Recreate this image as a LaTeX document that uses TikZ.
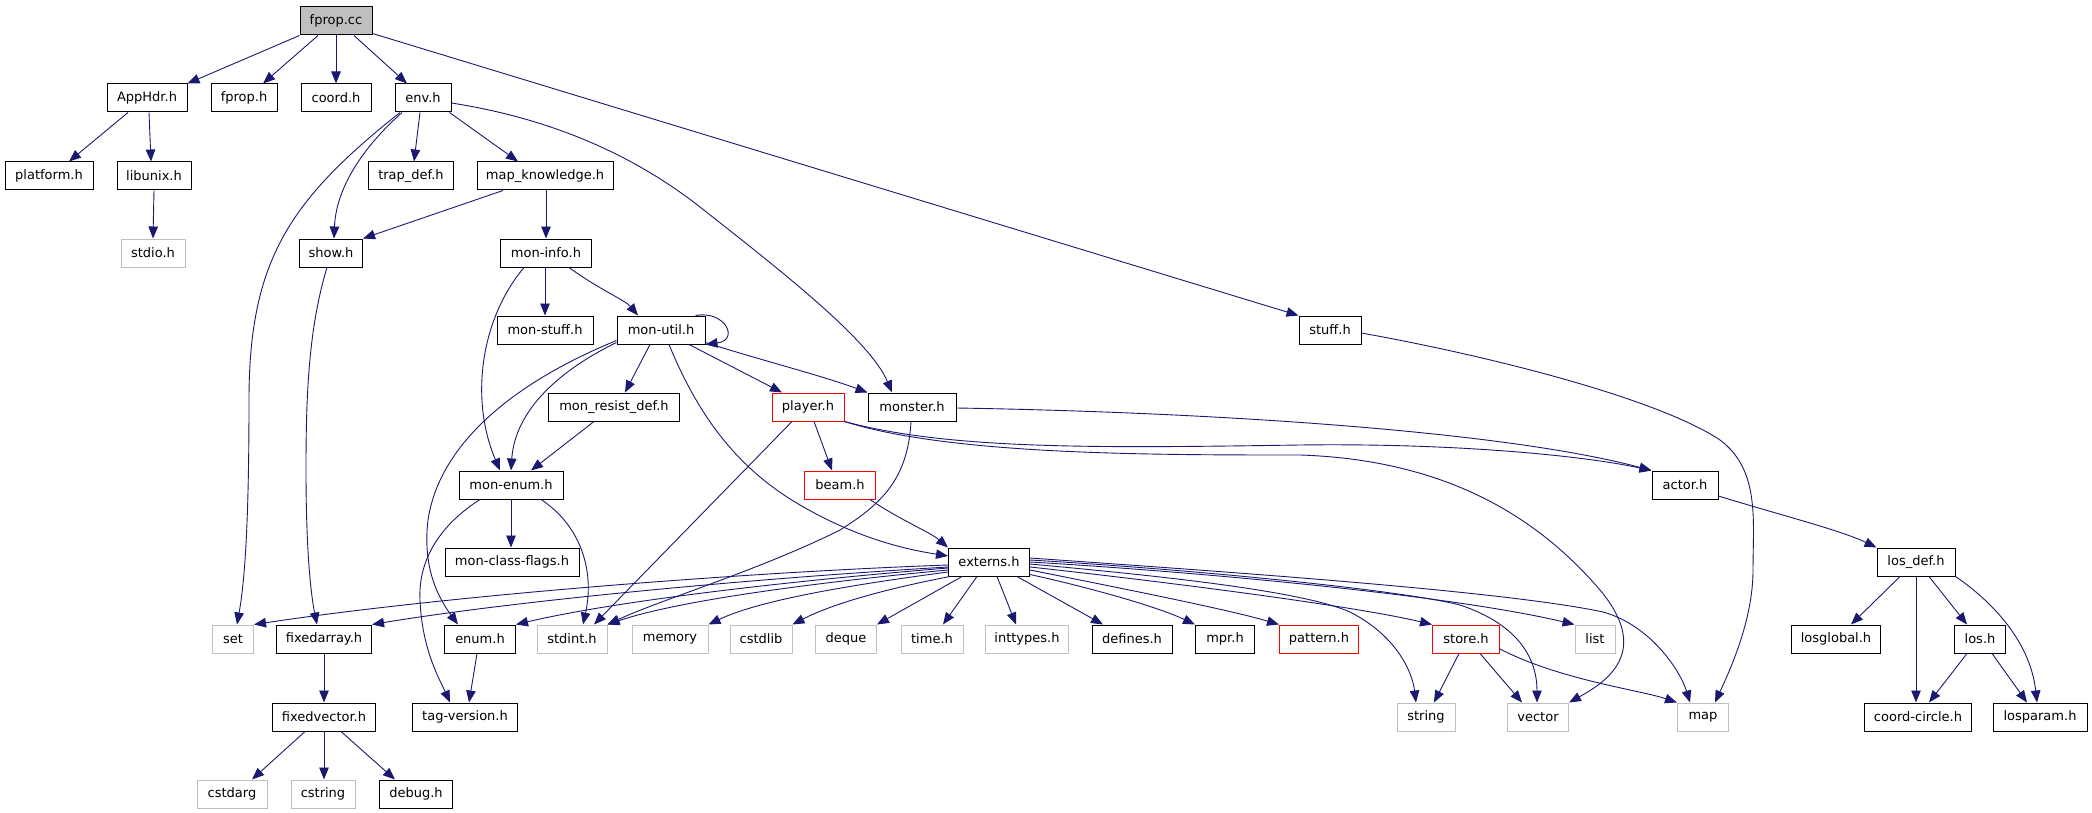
\documentclass[tikz,border=0pt]{standalone}
\usepackage{fontspec}
\setmainfont{DejaVu Sans}
\usetikzlibrary{arrows.meta}
\definecolor{edgec}{HTML}{191970}
\definecolor{grayb}{HTML}{BFBFBF}
\definecolor{redb}{HTML}{FF0000}
\tikzset{
  box/.style={draw=black, line width=1pt, minimum height=28pt, inner sep=0pt, font=\fontsize{13}{16}\selectfont},
  sysbox/.style={box, draw=grayb},
  redbox/.style={box, draw=redb},
  conn/.style={draw=edgec, line width=0.9pt, -{Triangle[length=12pt,width=9.5pt]}},
}
\begin{document}
\begin{tikzpicture}[x=1pt,y=-1pt]
\useasboundingbox (0,0) rectangle (2092,813);
% row 1
\node[box, fill=grayb, minimum width=72pt] (fprop) at (336,21) {fprop.cc};
% row 2
\node[box, minimum width=80pt] (apphdr) at (147,98) {AppHdr.h};
\node[box, minimum width=66pt] (fproph) at (244,98) {fprop.h};
\node[box, minimum width=70pt] (coordh) at (336,98) {coord.h};
\node[box, minimum width=56pt] (envh) at (423,98) {env.h};
% row 3
\node[box, minimum width=88pt] (platform) at (49,176) {platform.h};
\node[box, minimum width=74pt] (libunix) at (154,176) {libunix.h};
\node[box, minimum width=85pt] (trapdef) at (411,176) {trap\_def.h};
\node[box, minimum width=136pt] (mapk) at (545,176) {map\_knowledge.h};
% row 4
\node[sysbox, minimum width=64pt] (stdio) at (153,253) {stdio.h};
\node[box, minimum width=63pt] (show) at (331,253) {show.h};
\node[box, minimum width=91pt] (moninfo) at (546,253) {mon-info.h};
% row 5
\node[box, minimum width=96pt] (monstuff) at (545,330) {mon-stuff.h};
\node[box, minimum width=88pt] (monutil) at (661,330) {mon-util.h};
\node[box, minimum width=62pt] (stuff) at (1330,330) {stuff.h};
% row 6
\node[box, minimum width=131pt] (monresist) at (614,407) {mon\_resist\_def.h};
\node[redbox, minimum width=72pt] (player) at (808,407) {player.h};
\node[box, minimum width=88pt] (monster) at (912,407) {monster.h};
% row 7
\node[box, minimum width=104pt] (monenum) at (511,485) {mon-enum.h};
\node[redbox, minimum width=71pt] (beam) at (840,485) {beam.h};
\node[box, minimum width=66pt] (actor) at (1685,485) {actor.h};
% row 8
\node[box, minimum width=134pt] (monclass) at (512,562) {mon-class-flags.h};
\node[box, minimum width=81pt] (externs) at (989,562) {externs.h};
\node[box, minimum width=78pt] (losdef) at (1916,562) {los\_def.h};
% row 9
\node[sysbox, minimum width=41pt] (set) at (233,639) {set};
\node[box, minimum width=95pt] (fixedarray) at (324,639) {fixedarray.h};
\node[box, minimum width=71pt] (enum) at (480,639) {enum.h};
\node[sysbox, minimum width=70pt] (stdint) at (572,639) {stdint.h};
\node[sysbox, minimum width=76pt] (memory) at (670,639) {memory};
\node[sysbox, minimum width=62pt] (cstdlib) at (761,639) {cstdlib};
\node[sysbox, minimum width=61pt] (deque) at (846,639) {deque};
\node[sysbox, minimum width=62pt] (timeh) at (932,639) {time.h};
\node[sysbox, minimum width=83pt] (inttypes) at (1027,639) {inttypes.h};
\node[box, minimum width=80pt] (defines) at (1132,639) {defines.h};
\node[box, minimum width=59pt] (mpr) at (1225,639) {mpr.h};
\node[redbox, minimum width=79pt] (pattern) at (1319,639) {pattern.h};
\node[redbox, minimum width=67pt] (store) at (1466,639) {store.h};
\node[sysbox, minimum width=40pt] (list) at (1595,639) {list};
\node[box, minimum width=89pt] (losglobal) at (1836,639) {losglobal.h};
\node[box, minimum width=51pt] (los) at (1980,639) {los.h};
% row 10
\node[box, minimum width=103pt] (fixedvector) at (324,717) {fixedvector.h};
\node[box, minimum width=105pt] (tagversion) at (465,717) {tag-version.h};
\node[sysbox, minimum width=58pt] (string) at (1426,717) {string};
\node[sysbox, minimum width=61pt] (vector) at (1538,717) {vector};
\node[sysbox, minimum width=51pt] (map) at (1703,717) {map};
\node[box, minimum width=107pt] (coordcircle) at (1918,717) {coord-circle.h};
\node[box, minimum width=94pt] (losparam) at (2040,717) {losparam.h};
% row 11
\node[sysbox, minimum width=70pt] (cstdarg) at (232,794) {cstdarg};
\node[sysbox, minimum width=64pt] (cstring) at (323,794) {cstring};
\node[box, minimum width=73pt] (debug) at (416,794) {debug.h};

% ---- edges
\draw[conn] (fprop.south west) -- (apphdr.north east);
\draw[conn] ([xshift=-18pt]fprop.south) -- ([xshift=19pt]fproph.north);
\draw[conn] (fprop.south) -- (coordh.north);
\draw[conn] ([xshift=18pt]fprop.south) -- ([xshift=-16pt]envh.north);
\draw[conn] ([yshift=2pt]fprop.south east) -- (stuff.north west);

\draw[conn] ([xshift=-19pt]apphdr.south) -- ([xshift=20pt]platform.north);
\draw[conn] ([xshift=2pt]apphdr.south) -- ([xshift=-3pt]libunix.north);
\draw[conn] (libunix.south) -- (stdio.north);

\draw[conn] ([xshift=-23pt]envh.south) .. controls (290,200) and (249,260) .. (249,400) .. controls (249,520) and (245,580) .. ([xshift=4pt]set.north);
\draw[conn] ([xshift=-21pt]envh.south) .. controls (360,150) and (336,190) .. ([xshift=3pt]show.north);
\draw[conn] ([xshift=-3pt]envh.south) -- ([xshift=3pt]trapdef.north);
\draw[conn] ([xshift=-2pt]envh.south east) -- ([xshift=-27pt]mapk.north);
\draw[conn] ([yshift=-5pt]envh.east) .. controls (560,120) and (640,160) .. (700,207) .. controls (780,270) and (870,340) .. ([xshift=-20pt]monster.north);

\draw[conn] ([xshift=-42pt]mapk.south) -- (show.north east);
\draw[conn] ([xshift=1pt]mapk.south) -- (moninfo.north);

\draw[conn] ([xshift=-4pt]show.south) .. controls (308,330) and (306,400) .. (306,470) .. controls (306,560) and (312,600) .. ([xshift=-7pt]fixedarray.north);

\draw[conn] ([xshift=-22pt]moninfo.south) .. controls (480,320) and (470,400) .. ([xshift=-11pt]monenum.north);
\draw[conn] ([xshift=-1pt]moninfo.south) -- (monstuff.north);
\draw[conn] ([xshift=23pt]moninfo.south) .. controls (600,290) and (625,300) .. ([xshift=-23pt]monutil.north);

\draw[conn] ([xshift=-10pt]monutil.north east) .. controls (725,310) and (740,340) .. (monutil.south east);
\draw[conn] ([xshift=-11pt]monutil.south) -- ([xshift=11pt]monresist.north);
\draw[conn] ([yshift=2pt]monutil.south west) .. controls (560,370) and (515,410) .. (monenum.north);
\draw[conn] ([yshift=4pt]monutil.south west) .. controls (520,380) and (440,440) .. (428,520) .. controls (422,570) and (440,600) .. ([xshift=-22pt]enum.north);
\draw[conn] ([xshift=28pt]monutil.south) -- ([xshift=-26pt]player.north);
\draw[conn] ([yshift=2pt]monutil.south east) .. controls (760,360) and (820,375) .. (monster.north west);
\draw[conn] ([xshift=8pt]monutil.south) .. controls (700,420) and (740,470) .. (800,505) .. controls (860,540) and (910,550) .. ([yshift=6pt]externs.west);

\draw[conn] ([xshift=-20pt]monresist.south) -- ([xshift=20pt]monenum.north);
\draw[conn] (monenum.south) -- (monenum.south |- monclass.north);
\draw[conn] ([xshift=30pt]monenum.south) .. controls (580,525) and (595,570) .. ([xshift=11pt]stdint.north);
\draw[conn] ([xshift=-31pt]monenum.south) .. controls (440,525) and (418,560) .. (420,600) .. controls (422,650) and (440,680) .. ([xshift=-15pt]tagversion.north);

\draw[conn] ([xshift=-3pt]enum.south) -- ([xshift=4pt]tagversion.north);
\draw[conn] (fixedarray.south) -- (fixedvector.north);
\draw[conn] ([xshift=-19pt]fixedvector.south) -- ([xshift=20pt]cstdarg.north);
\draw[conn] (fixedvector.south) -- (fixedvector.south |- cstring.north);
\draw[conn] ([xshift=17pt]fixedvector.south) -- ([xshift=-21pt]debug.north);

\draw[conn] ([xshift=6pt]player.south) -- ([xshift=-8pt]beam.north);
\draw[conn] ([xshift=-16pt]player.south) -- ([xshift=22pt]stdint.north);
\draw[conn] ([xshift=-1pt]monster.south) .. controls (908,480) and (880,505) .. (840,530) .. controls (760,570) and (660,600) .. (stdint.north east);
\draw[conn] ([yshift=-1pt]monster.east) .. controls (1200,412) and (1500,430) .. (actor.north west);
\draw[conn] (player.south east) .. controls (950,450) and (1100,448) .. (1300,445) .. controls (1450,443) and (1580,455) .. (actor.north west);
\draw[conn] (player.south east) .. controls (950,455) and (1150,455) .. (1300,455) .. controls (1450,460) and (1540,520) .. (1600,590) .. controls (1650,650) and (1610,680) .. (vector.north east);

\draw[conn] ([yshift=-3pt]stuff.east) .. controls (1500,358) and (1660,400) .. (1720,440) .. controls (1760,470) and (1753,520) .. (1753,570) .. controls (1753,620) and (1730,670) .. ([xshift=12pt]map.north);

\draw[conn] ([xshift=-6pt]beam.south east) .. controls (900,520) and (930,532) .. (externs.north west);

\draw[conn] ([yshift=-11pt]actor.east) .. controls (1780,515) and (1840,530) .. (losdef.north west);
\draw[conn] ([xshift=-16pt]losdef.south) -- ([xshift=15pt]losglobal.north);
\draw[conn] (losdef.south) -- (losdef.south |- coordcircle.north);
\draw[conn] ([xshift=13pt]losdef.south) -- ([xshift=-13pt]los.north);
\draw[conn] (losdef.south east) .. controls (1990,600) and (2030,640) .. ([xshift=-3pt]losparam.north);
\draw[conn] ([xshift=-13pt]los.south) -- ([xshift=11pt]coordcircle.north);
\draw[conn] ([xshift=12pt]los.south) -- ([xshift=-13pt]losparam.north);

\draw[conn] ([xshift=-7pt]store.south) -- ([xshift=8pt]string.north);
\draw[conn] ([xshift=14pt]store.south) -- ([xshift=-16pt]vector.north);
\draw[conn] ([yshift=-10pt]store.east) .. controls (1560,680) and (1640,690) .. (map.north west);

% externs outgoing
\draw[conn] ([yshift=-3pt]externs.west) .. controls (750,572) and (450,595) .. (set.north east);
\draw[conn] ([yshift=-5pt]externs.west) .. controls (760,578) and (520,600) .. (fixedarray.north east);
\draw[conn] ([yshift=-6pt]externs.west) .. controls (800,580) and (620,600) .. (enum.north east);
\draw[conn] ([yshift=-8pt]externs.west) .. controls (820,582) and (680,600) .. (stdint.north east);
\draw[conn] ([yshift=-10pt]externs.west) .. controls (850,585) and (760,600) .. (memory.north east);
\draw[conn] ([xshift=2pt]externs.south west) .. controls (880,590) and (830,605) .. (cstdlib.north east);
\draw[conn] ([xshift=-27pt]externs.south) -- (deque.north east);
\draw[conn] ([xshift=-12pt]externs.south) -- ([xshift=11pt]timeh.north);
\draw[conn] ([xshift=8pt]externs.south) -- ([xshift=-11pt]inttypes.north);
\draw[conn] ([xshift=28pt]externs.south) -- ([xshift=-29pt]defines.north);
\draw[conn] ([yshift=2pt]externs.south east) .. controls (1100,590) and (1160,608) .. (mpr.north west);
\draw[conn] ([yshift=-8pt]externs.east) .. controls (1130,590) and (1230,610) .. (pattern.north west);
\draw[conn] ([yshift=-5pt]externs.east) .. controls (1150,580) and (1350,605) .. (store.north west);
\draw[conn] (externs.east) .. controls (1200,572) and (1450,595) .. (list.north west);
\draw[conn] ([yshift=-2pt]externs.east) .. controls (1150,575) and (1300,590) .. (1350,612) .. controls (1395,635) and (1412,670) .. ([xshift=-10pt]string.north);
\draw[conn] ([yshift=2pt]externs.east) .. controls (1200,570) and (1400,590) .. (1460,605) .. controls (1520,625) and (1537,660) .. ([xshift=-1pt]vector.north);
\draw[conn] ([yshift=4pt]externs.east) .. controls (1200,570) and (1500,590) .. (1603,612) .. controls (1650,625) and (1680,670) .. ([xshift=-13pt]map.north);
\end{tikzpicture}
\end{document}
